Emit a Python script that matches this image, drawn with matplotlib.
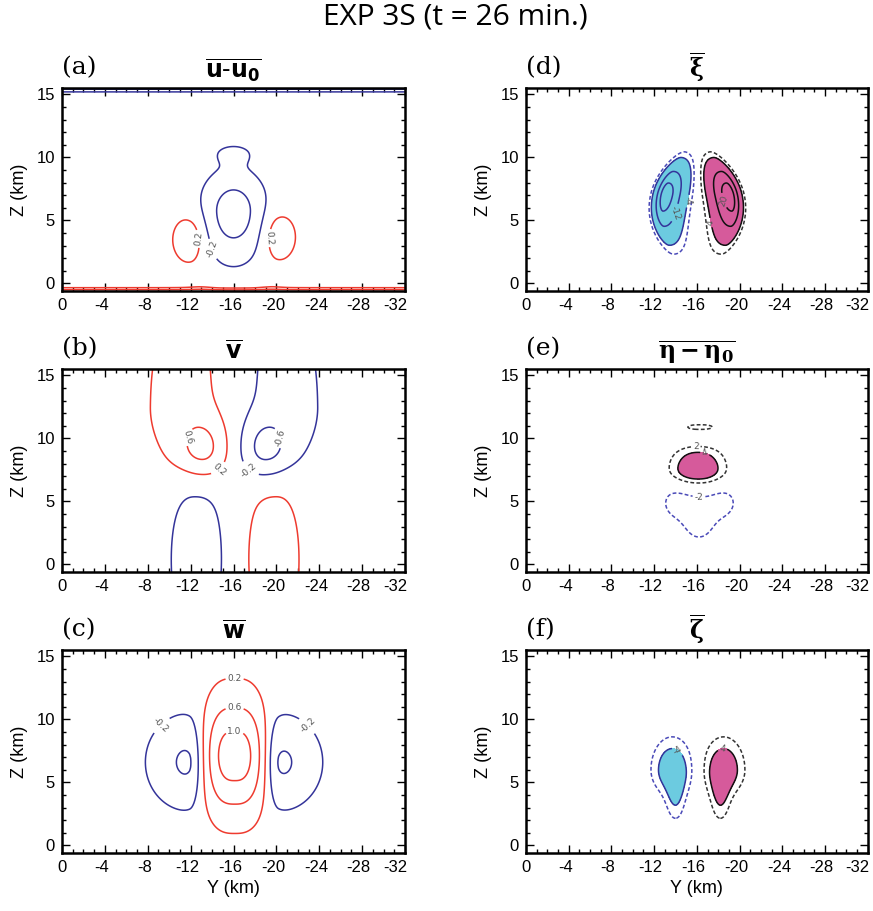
import numpy as np
import matplotlib
matplotlib.use('Agg')
import matplotlib.pyplot as plt
from matplotlib.ticker import MultipleLocator
from matplotlib.transforms import ScaledTranslation

plt.rcParams['axes.unicode_minus'] = False
plt.rcParams['contour.negative_linestyle'] = 'solid'

# grid of the cross-section (Y, Z in km)
Y_AXIS = np.linspace(0, -32, 321)
Z_AXIS = np.linspace(-0.6, 15.5, 200)
X_TICKS = [0, -4, -8, -12, -16, -20, -24, -28, -32]
Z_TICKS = [0, 5, 10, 15]

# field pieces:
# (Y centre, Z centre, width toward 0, width toward -32, depth below, depth above,
#  amplitude, y power, z power, lean of the centre with height, bend of the centre)
U_BLOBS = [(-16.0, 5.7, 2.0, 2.0, 2.59, 2.13, -0.83, 2, 2, 0, 0),
           (-16.0, 10.3, 1.3, 1.3, 0.6, 0.55, -0.26, 2, 2, 0, 0),
           (-12.0, 3.5, 1.3, 1.0, 1.5, 1.5, 0.48, 2, 2, 0, 0),
           (-20.1, 3.7, 1.0, 1.3, 1.5, 1.5, 0.48, 2, 2, 0, 0),
           (-16.0, 15.55, 99.0, 99.0, 0.22, 0.22, -0.75, 2, 2, 0, 0),
           (-16.0, -0.7, 99.0, 99.0, 0.2, 0.2, 1.0, 2, 2, 0, 0),
           (-13.0, -0.4, 0.8, 0.8, 0.25, 0.25, 0.12, 2, 2, 0, 0),
           (-19.5, -0.4, 0.8, 0.8, 0.25, 0.25, 0.12, 2, 2, 0, 0)]
V_BLOBS = [(-13.2, 9.1, 1.7, 1.5, 1.5, 1.7, 0.66, 2, 2, 0, 0),
           (-11.5, 12.5, 3.0, 2.4, 3.6, 8.0, 0.36, 2, 2, 0, 0),
           (-12.4, 0.5, 1.8, 2.1, 5.0, 5.0, -0.44, 2.2, 2, 0, 0),
           (-18.9, 9.1, 1.5, 1.7, 1.5, 1.7, -0.66, 2, 2, 0, 0),
           (-20.6, 12.5, 2.4, 3.0, 3.6, 8.0, -0.36, 2, 2, 0, 0),
           (-19.9, 0.5, 2.1, 1.8, 5.0, 5.0, 0.44, 2.2, 2, 0, 0)]
W_BLOBS = [(-16.1, 7.1, 2.16, 2.16, 3.25, 3.25, 1.2, 2.8, 2, 0, 0),
           (-11.9, 6.6, 2.65, 0.8, 2.5, 2.5, -0.67, 2, 2, 0, 0),
           (-20.2, 6.6, 0.8, 2.65, 2.5, 2.5, -0.67, 2, 2, 0, 0)]
XI_BLOBS = [(-13.0, 7.0, 0.6, 1.2, 2.1, 1.6, -24.0, 2, 2, -0.25, -0.09),
            (-19.1, 7.0, 1.2, 0.6, 2.1, 1.6, 24.0, 2, 2, 0.25, 0.09)]
ETA_BLOBS = [(-16.1, 7.5, 1.8, 1.8, 0.75, 0.95, 7.1, 2.2, 2, 0, 0),
             (-16.1, 8.8, 1.6, 1.6, 0.55, 0.55, 1.6, 2, 2, 0, 0),
             (-16.3, 10.9, 1.7, 1.7, 0.3, 0.3, 2.4, 2.5, 2, 0, 0),
             (-13.9, 4.9, 1.2, 1.2, 1.15, 1.15, -2.4, 2, 2, 0, 0),
             (-18.6, 4.9, 1.2, 1.2, 1.15, 1.15, -2.4, 2, 2, 0, 0),
             (-16.2, 3.1, 1.2, 1.2, 1.2, 1.2, -2.4, 2, 2, 0, 0),
             (-16.2, 4.6, 1.3, 1.3, 1.2, 1.2, -1.3, 2, 2, 0, 0)]
ZETA_BLOBS = [(-13.7, 6.0, 1.3, 1.3, 1.3, 1.7, -6.5, 2, 2, 0, 0),
              (-14.0, 3.9, 0.65, 0.65, 1.5, 1.2, -3.8, 2, 2, 0, 0),
              (-18.5, 6.0, 1.3, 1.3, 1.3, 1.7, 6.5, 2, 2, 0, 0),
              (-18.2, 3.9, 0.65, 0.65, 1.5, 1.2, 3.8, 2, 2, 0, 0)]

LINE_LEVELS = [0.2, 0.6, 1.0, 1.4, 1.8]
FILL_LEVELS = [4, 12, 20]
DASH_LEVEL = 2

RED = '#ee3b2f'
BLUE = '#34349a'
CYAN = '#6ccbe0'
MAGENTA = '#d65a9b'


def build(blobs):
    yy, zz = np.meshgrid(Y_AXIS, Z_AXIS)
    f = np.zeros_like(yy)
    for yc, zc, sl, sr, sd, su, amp, py, pz, lean, bend in blobs:
        ycz = yc + lean * (zz - zc) + bend * (zz - zc) ** 2
        sy = np.where(yy > ycz, sl, sr)
        sz = np.where(zz < zc, sd, su)
        f += amp * np.exp(-0.5 * (np.abs((yy - ycz) / sy) ** py + np.abs((zz - zc) / sz) ** pz))
    return f


def frame(ax, letter, title, mathfont, xlabel=False):
    ax.set_xlim(0, -32)
    ax.set_ylim(-0.6, 15.5)
    ax.set_xticks(X_TICKS, labels=[str(v) for v in X_TICKS])
    ax.set_yticks(Z_TICKS, labels=[str(v) for v in Z_TICKS])
    ax.xaxis.set_minor_locator(MultipleLocator(1))
    ax.yaxis.set_minor_locator(MultipleLocator(1))
    ax.tick_params(which='both', direction='in', top=True, right=True, width=1.0,
                   labelsize=12, pad=5)
    ax.tick_params(which='major', length=6)
    ax.tick_params(which='minor', length=3)
    for s in ax.spines.values():
        s.set_linewidth(1.8)
    off = ScaledTranslation(-2.5 / 72, 0, fig.dpi_scale_trans)
    last = ScaledTranslation(1.5 / 72, 0, fig.dpi_scale_trans)
    for lab in ax.get_xticklabels():
        lab.set_family('Liberation Sans')
        if lab.get_text() == str(X_TICKS[-1]):
            lab.set_horizontalalignment('right')
            lab.set_transform(lab.get_transform() + last)
        elif lab.get_text().startswith('-'):
            lab.set_transform(lab.get_transform() + off)
    for lab in ax.get_yticklabels():
        lab.set_family('Liberation Sans')
    ax.set_ylabel('Z (km)', fontsize=13, family='Liberation Sans', labelpad=6)
    if xlabel:
        ax.set_xlabel('Y (km)', fontsize=13, family='Liberation Sans', labelpad=4)
    ax.text(0.0, 1.07, letter, transform=ax.transAxes, fontsize=18,
            family='DejaVu Serif', ha='left', va='baseline')
    ax.text(0.5, 1.05, title, transform=ax.transAxes, fontsize=17,
            ha='center', va='baseline', math_fontfamily=mathfont)


def put_labels(ax, cs, pts, fmt):
    for p in pts:
        ax.clabel(cs, manual=[p], inline=True, fontsize=6.5, fmt=fmt, inline_spacing=2)
    for lab in cs.labelTexts:
        lab.set_color('#555555')


def line_panel(ax, field, neg_pts, pos_pts):
    neg = [-v for v in LINE_LEVELS[::-1]]
    cn = ax.contour(Y_AXIS, Z_AXIS, field, levels=neg, colors=BLUE, linewidths=1.1)
    cp = ax.contour(Y_AXIS, Z_AXIS, field, levels=LINE_LEVELS, colors=RED, linewidths=1.1)
    put_labels(ax, cn, neg_pts, '%.1f')
    put_labels(ax, cp, pos_pts, '%.1f')


def fill_panel(ax, field, neg_pts, pos_pts, dneg_pts, dpos_pts):
    ax.contourf(Y_AXIS, Z_AXIS, field, levels=[-1e3, -FILL_LEVELS[0]], colors=[CYAN])
    ax.contourf(Y_AXIS, Z_AXIS, field, levels=[FILL_LEVELS[0], 1e3], colors=[MAGENTA])
    cn = ax.contour(Y_AXIS, Z_AXIS, field, levels=[-v for v in FILL_LEVELS[::-1]],
                    colors=BLUE, linewidths=1.1)
    cp = ax.contour(Y_AXIS, Z_AXIS, field, levels=FILL_LEVELS, colors='#111111', linewidths=1.1)
    dn = ax.contour(Y_AXIS, Z_AXIS, field, levels=[-DASH_LEVEL], colors='#4a4ab8',
                    linewidths=1.1, linestyles=[(0, (2.5, 1.5))])
    dp = ax.contour(Y_AXIS, Z_AXIS, field, levels=[DASH_LEVEL], colors='#333333',
                    linewidths=1.1, linestyles=[(0, (2.5, 1.5))])
    put_labels(ax, cn, neg_pts, '%d')
    put_labels(ax, cp, pos_pts, '%d')
    put_labels(ax, dn, dneg_pts, '%d')
    put_labels(ax, dp, dpos_pts, '%d')


fig = plt.figure(figsize=(8.73, 9.11), dpi=100)
fig.text(0.522, 0.981, 'EXP 3S (t = 26 min.)', fontsize=21.5, family='Open Sans',
         ha='center', va='center')

left = [0.071, 0.6025]
width = [0.393, 0.3915]
bottom = [0.6806, 0.3721, 0.0637]
h = 0.2228

ax = fig.add_axes([left[0], bottom[0], width[0], h])
line_panel(ax, build(U_BLOBS), [(-14.3, 2.8)], [(-13.3, 3.6), (-19.3, 3.6)])
frame(ax, '(a)', r'$\overline{\mathbf{u\text{-}u_0}}$', 'dejavusans')

ax = fig.add_axes([left[0], bottom[1], width[0], h])
line_panel(ax, build(V_BLOBS), [(-20.0, 10.0), (-17.0, 7.0)], [(-12.2, 10.0), (-15.2, 7.0)])
frame(ax, '(b)', r'$\overline{\mathbf{v}}$', 'dejavusans')

ax = fig.add_axes([left[0], bottom[2], width[0], h])
line_panel(ax, build(W_BLOBS), [(-9.2, 9.6), (-23.0, 9.6)],
           [(-16.1, 13.4), (-16.1, 10.7), (-16.1, 9.0)])
frame(ax, '(c)', r'$\overline{\mathbf{w}}$', 'dejavusans', xlabel=True)

ax = fig.add_axes([left[1], bottom[0], width[1], h])
fill_panel(ax, build(XI_BLOBS), [(-14.0, 5.6), (-15.3, 6.5)], [(-18.2, 6.5), (-17.2, 4.8)], [], [])
frame(ax, '(d)', r'$\overline{\mathbf{\xi}}$', 'dejavuserif')

ax = fig.add_axes([left[1], bottom[1], width[1], h])
fill_panel(ax, build(ETA_BLOBS), [], [(-16.6, 8.3)], [(-16.2, 5.4)], [(-15.9, 9.3)])
frame(ax, '(e)', r'$\overline{\mathbf{\eta - \eta_0}}$', 'dejavuserif')

ax = fig.add_axes([left[1], bottom[2], width[1], h])
fill_panel(ax, build(ZETA_BLOBS), [(-14.3, 7.6)], [(-18.4, 7.6)], [], [])
frame(ax, '(f)', r'$\overline{\mathbf{\zeta}}$', 'dejavuserif', xlabel=True)

fig.savefig('out.png', dpi=100)
